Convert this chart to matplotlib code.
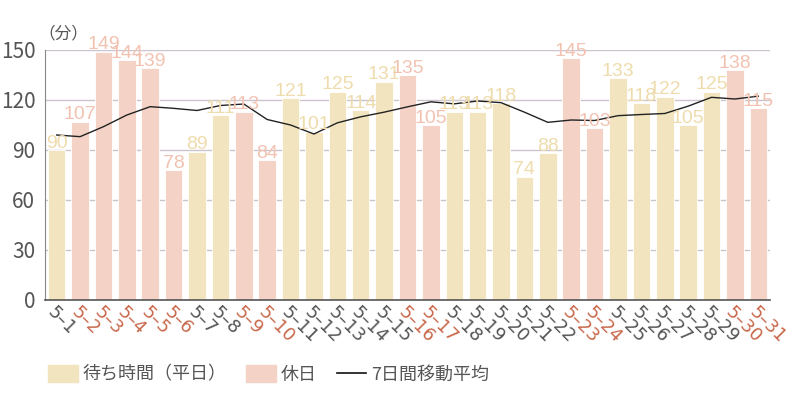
import matplotlib.pyplot as plt
from matplotlib.patches import Patch
from matplotlib.lines import Line2D

plt.rcParams['font.family'] = ['Noto Sans CJK JP', 'DejaVu Sans']

days = [f"5–{d}" for d in range(1, 32)]
wait = [90, 107, 149, 144, 139, 78, 89, 111, 113, 84, 121, 101, 125, 114, 131, 135,
        105, 113, 113, 118, 74, 88, 145, 103, 133, 118, 122, 105, 125, 138, 115]
holiday = [2, 3, 4, 5, 6, 9, 10, 16, 17, 23, 24, 30, 31]
avg7 = [99.0, 98.0, 104.0, 111.0, 116.0, 115.0, 113.7, 116.7, 117.6, 108.3, 105.0,
        99.6, 106.3, 109.9, 112.7, 115.9, 118.9, 117.7, 119.4, 118.4, 112.7, 106.6,
        108.0, 107.7, 110.6, 111.3, 111.9, 116.3, 121.6, 120.6, 122.3]

c_week = '#F2E4BE'
c_hol = '#F4D3C6'
lab_week = '#EEDCAC'
lab_hol = '#F2C2B1'
tick_hol = '#C8684A'
gray = '#555555'

fig = plt.figure(figsize=(8, 4), dpi=100)
ax = fig.add_axes([0.05625, 0.25, 0.90625, 0.625])

x = list(range(len(days)))
is_hol = [(i + 1) in holiday for i in x]
colors = [c_hol if h else c_week for h in is_hol]
ax.bar(x, wait, width=0.75, color=colors, edgecolor='white', linewidth=0.6, zorder=2)
ax.plot(x, avg7, color='#222222', linewidth=1.0, zorder=3)

for i, v in enumerate(wait):
    ax.text(i, v - 1, str(v), ha='center', va='bottom', fontsize=14,
            family=['Liberation Sans', 'DejaVu Sans'],
            color=lab_hol if is_hol[i] else lab_week, zorder=4)

ax.set_xlim(-0.5, 30.5)
ax.set_ylim(0, 150)
ax.set_yticks([0, 30, 60, 90, 120, 150])
ax.tick_params(axis='y', length=0, labelsize=15, labelcolor=gray, pad=7)
ax.tick_params(axis='x', length=0, pad=2)
ax.yaxis.grid(True, color='#CCC4CC', linewidth=1, zorder=0)
ax.set_axisbelow(True)
ax.set_xticks(x)
ax.set_xticklabels(days, rotation=-45, ha='left', va='top', rotation_mode='anchor',
                   fontsize=13, family='DejaVu Sans')
for lab, h in zip(ax.get_xticklabels(), is_hol):
    lab.set_color(tick_hol if h else gray)

for s in ['top', 'right']:
    ax.spines[s].set_visible(False)
ax.spines['left'].set_color('#888888')
ax.spines['bottom'].set_color('#555555')
ax.spines['bottom'].set_linewidth(1.2)

fig.text(0.048, 0.915, '（分）', fontsize=12, color=gray, ha='left', va='center')

handles = [Patch(color=c_week, label='待ち時間（平日）'),
           Patch(color=c_hol, label='休日'),
           Line2D([0], [0], color='#111111', linewidth=1.2, label='7日間移動平均')]
fig.legend(handles=handles, loc='lower left', bbox_to_anchor=(0.04, 0.0), ncol=3,
           frameon=False, fontsize=13, labelcolor=gray, handlelength=1.65,
           handleheight=1.0, columnspacing=1.1, handletextpad=0.25)

fig.savefig('out.png', dpi=100)
